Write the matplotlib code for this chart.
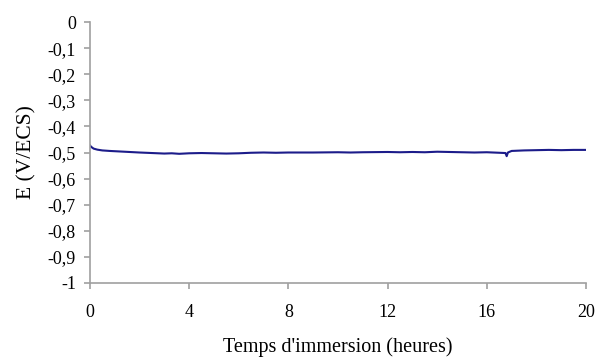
import matplotlib
matplotlib.use("Agg")
import matplotlib.pyplot as plt

# temps (heures) et potentiel (V/ECS)
temps = [0, 0.05, 0.15, 0.3, 0.5, 0.8, 1.2, 1.6, 2.0, 2.5, 3.0, 3.3, 3.6, 4.0, 4.5,
         5.0, 5.5, 6.0, 6.5, 7.0, 7.5, 8.0, 9.0, 10.0, 10.5, 11.0, 12.0, 12.5, 13.0,
         13.5, 14.0, 14.5, 15.0, 15.5, 16.0, 16.5, 16.75, 16.8, 16.85, 17.0, 17.5,
         18.0, 18.5, 19.0, 19.5, 20.0]
E = [-0.472, -0.478, -0.485, -0.489, -0.492, -0.494, -0.496, -0.498, -0.500, -0.502,
     -0.504, -0.503, -0.505, -0.503, -0.502, -0.503, -0.504, -0.503, -0.501, -0.500,
     -0.501, -0.500, -0.500, -0.499, -0.500, -0.499, -0.498, -0.499, -0.498, -0.499,
     -0.497, -0.498, -0.499, -0.500, -0.499, -0.501, -0.502, -0.514, -0.500, -0.494,
     -0.492, -0.491, -0.490, -0.491, -0.490, -0.490]
xticks = [0, 4, 8, 12, 16, 20]
yticks = [0, -0.1, -0.2, -0.3, -0.4, -0.5, -0.6, -0.7, -0.8, -0.9, -1]

plt.rcParams['font.family'] = ['Liberation Serif', 'DejaVu Serif']

fig = plt.figure(figsize=(5.95, 3.58), dpi=100)
ax = fig.add_axes([0.151, 0.2095, 0.834, 0.729])
ax.plot(temps, E, color='#1c1c8a', linewidth=1.5)

ax.set_xlim(0, 20)
ax.set_ylim(-1, 0)
ax.set_xticks(xticks)
ax.set_xticklabels([str(t) for t in xticks])
ax.set_yticks(yticks)
ax.set_yticklabels(['0' if v == 0 else ('-1' if v == -1 else ('%.1f' % v).replace('.', ',')) for v in yticks])

for s in ['top', 'right']:
    ax.spines[s].set_visible(False)
for s in ['left', 'bottom']:
    ax.spines[s].set_color('#a0a0a0')
    ax.spines[s].set_linewidth(1.2)
ax.tick_params(axis='both', colors='#a0a0a0', labelcolor='black', labelsize=13, length=4, width=1.2)
ax.tick_params(axis='y', pad=6)
ax.tick_params(axis='x', pad=11)

ax.set_xlabel("Temps d'immersion (heures)", fontsize=14.5, labelpad=12)
ax.set_ylabel("E (V/ECS)", fontsize=15.5, labelpad=8)

fig.savefig('out.png', dpi=100)
